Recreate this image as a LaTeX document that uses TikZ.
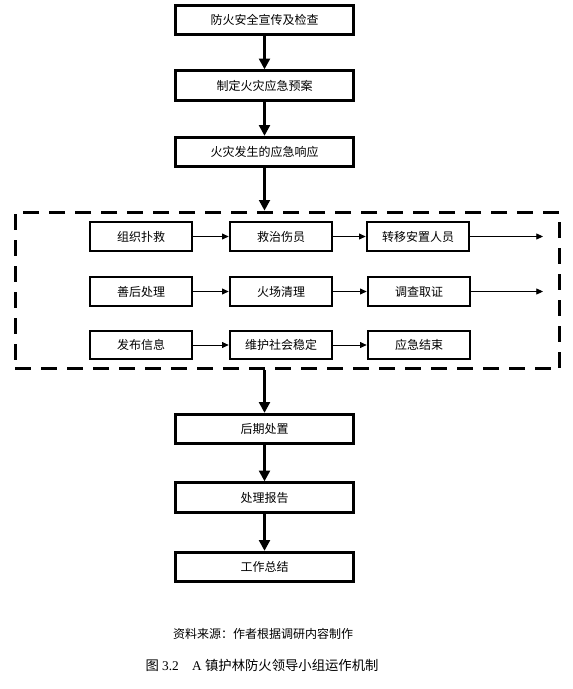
\documentclass[tikz,border=0pt]{standalone}
\usepackage{fontspec}
\setmainfont{Liberation Serif}
\newfontfamily\cjk{Noto Sans CJK SC}
\usetikzlibrary{arrows.meta}
\begin{document}
\begin{tikzpicture}[x=0.75pt,y=-0.75pt,
    stage/.style={draw,line width=2.2pt,minimum width=134pt,minimum height=22pt,inner sep=0pt,font=\cjk\fontsize{9}{9}\selectfont},
    task/.style={draw,line width=1.5pt,minimum width=77pt,minimum height=21.5pt,inner sep=0pt,font=\cjk\fontsize{9}{9}\selectfont},
    frame/.style={draw,line width=2.2pt,dash pattern=on 12pt off 7.5pt,minimum width=408.5pt,minimum height=117.5pt,inner sep=0pt},
    bigarrow/.style={line width=2.2pt,-{Triangle[length=8pt,width=8pt]}},
    smallarrow/.style={line width=0.6pt,-{Triangle[length=5pt,width=4.5pt]}}]
    \useasboundingbox (0,0) rectangle (573,689);
    \node[stage] (s1) at (264.5,20) {防火安全宣传及检查};
    \node[stage] (s2) at (264.5,85.5) {制定火灾应急预案};
    \node[stage] (s3) at (264.5,152) {火灾发生的应急响应};
    \node[frame] (frame) at (287.5,290.5) {};
    \node[task] (a1) at (141,236.5) {组织扑救};
    \node[task] (a2) at (281,236.5) {救治伤员};
    \node[task] (a3) at (418,236.5) {转移安置人员};
    \node[task] (b1) at (141,291.5) {善后处理};
    \node[task] (b2) at (281,291.5) {火场清理};
    \node[task] (b3) at (419,291.5) {调查取证};
    \node[task] (c1) at (141,345) {发布信息};
    \node[task] (c2) at (281,345) {维护社会稳定};
    \node[task] (c3) at (419,345) {应急结束};
    \coordinate (aend) at (543,236.5);
    \coordinate (bend) at (543,291.5);
    \node[stage] (s4) at (264.5,429) {后期处置};
    \node[stage] (s5) at (264.5,497.5) {处理报告};
    \node[stage] (s6) at (264.5,567) {工作总结};
    \draw[bigarrow] (s1) -- (s2);
    \draw[bigarrow] (s2) -- (s3);
    \draw[bigarrow] (s3.south) -- (s3.south |- frame.north);
    \draw[bigarrow] (s3.south |- frame.south) -- (s4.north);
    \draw[bigarrow] (s4) -- (s5);
    \draw[bigarrow] (s5) -- (s6);
    \draw[smallarrow] (a1) -- (a2);
    \draw[smallarrow] (a2) -- (a3);
    \draw[smallarrow] (a3) -- (aend);
    \draw[smallarrow] (b1) -- (b2);
    \draw[smallarrow] (b2) -- (b3);
    \draw[smallarrow] (b3) -- (bend);
    \draw[smallarrow] (c1) -- (c2);
    \draw[smallarrow] (c2) -- (c3);
    \node[font=\cjk\fontsize{9}{9}\selectfont] (source) at (263,634) {资料来源：作者根据调研内容制作};
    \node[font=\fontsize{10}{10}\selectfont] (caption) at (262,665) {{\cjk 图} 3.2\quad A {\cjk 镇护林防火领导小组运作机制}};
\end{tikzpicture}
\end{document}
